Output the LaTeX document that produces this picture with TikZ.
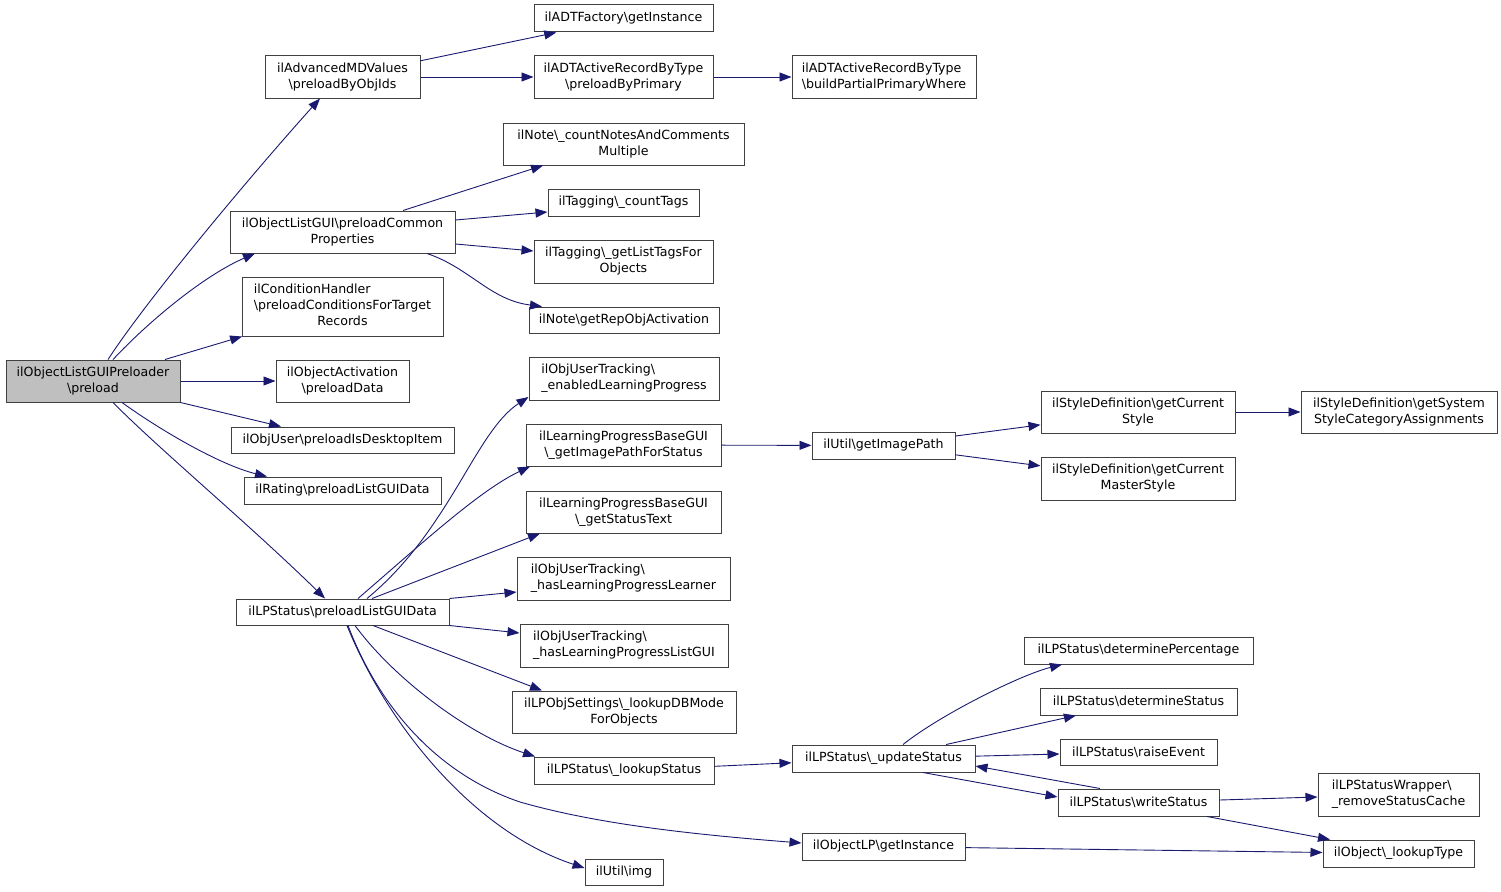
\documentclass[tikz,border=0pt]{standalone}
\usepackage{fontspec}
\setmainfont{DejaVu Sans}
\usetikzlibrary{arrows.meta}
\definecolor{edgec}{HTML}{191970}
\definecolor{boxc}{HTML}{404040}
\definecolor{rootc}{HTML}{BFBFBF}
\newcommand{\bs}{\textbackslash}
\tikzset{
 fn/.style={draw=boxc, line width=1pt, fill=white, inner sep=0pt, align=center, font=\fontsize{12.6}{16}\selectfont},
 fnl/.style={fn, align=left},
 rootfn/.style={fn, fill=rootc},
 call/.style={draw=edgec, line width=0.9pt, -{Triangle[length=12pt,width=9pt]}},
}
\begin{document}
\begin{tikzpicture}[x=1pt,y=-1pt]
\useasboundingbox (0,0) rectangle (1501,891);
% nodes
\node[rootfn, minimum width=174pt, minimum height=42pt] (root) at (93,381) {ilObjectListGUIPreloader\\\bs preload};
\node[fn, minimum width=155pt, minimum height=42pt] (amd) at (342.5,77) {ilAdvancedMDValues\\\bs preloadByObjIds};
\node[fn, minimum width=225pt, minimum height=42pt] (olg) at (342.5,232) {ilObjectListGUI\bs preloadCommon\\Properties};
\node[fn, minimum width=201pt, minimum height=59pt] (cond) at (342.5,306.5) {\begin{tabular}{@{}l@{}}ilConditionHandler\\\bs preloadConditionsForTarget\\\multicolumn{1}{@{}c@{}}{Records}\end{tabular}};
\node[fn, minimum width=133pt, minimum height=42pt] (oact) at (342.5,381) {ilObjectActivation\\\bs preloadData};
\node[fn, minimum width=223pt, minimum height=26pt] (ouser) at (342.5,440) {ilObjUser\bs preloadIsDesktopItem};
\node[fn, minimum width=197pt, minimum height=27pt] (rating) at (342.5,490.5) {ilRating\bs preloadListGUIData};
\node[fn, minimum width=213pt, minimum height=26pt] (lpsp) at (342.5,612) {ilLPStatus\bs preloadListGUIData};
\node[fn, minimum width=179pt, minimum height=27pt] (adtf) at (623.5,18.5) {ilADTFactory\bs getInstance};
\node[fn, minimum width=179pt, minimum height=42pt] (adtp) at (623.5,77) {ilADTActiveRecordByType\\\bs preloadByPrimary};
\node[fnl, minimum width=184pt, minimum height=42pt] (adtb) at (884,77) {ilADTActiveRecordByType\\\bs buildPartialPrimaryWhere};
\node[fn, minimum width=241pt, minimum height=42pt] (notecnt) at (623.5,144) {ilNote\bs\_countNotesAndComments\\Multiple};
\node[fn, minimum width=151pt, minimum height=27pt] (tagcnt) at (623.5,202.5) {ilTagging\bs\_countTags};
\node[fn, minimum width=179pt, minimum height=43pt] (taglist) at (623.5,261.5) {ilTagging\bs\_getListTagsFor\\Objects};
\node[fn, minimum width=190pt, minimum height=26pt] (noterep) at (624,320) {ilNote\bs getRepObjActivation};
\node[fnl, minimum width=190pt, minimum height=43pt] (outen) at (624,378.5) {ilObjUserTracking\bs\\\_enabledLearningProgress};
\node[fn, minimum width=195pt, minimum height=42pt] (lpimg) at (623.5,445) {ilLearningProgressBaseGUI\\\bs\_getImagePathForStatus};
\node[fn, minimum width=195pt, minimum height=42pt] (lptext) at (623.5,512) {ilLearningProgressBaseGUI\\\bs\_getStatusText};
\node[fnl, minimum width=213pt, minimum height=43pt] (outlearner) at (623.5,578.5) {ilObjUserTracking\bs\\\_hasLearningProgressLearner};
\node[fnl, minimum width=208pt, minimum height=43pt] (outlist) at (624,645.5) {ilObjUserTracking\bs\\\_hasLearningProgressListGUI};
\node[fn, minimum width=224pt, minimum height=42pt] (lpdb) at (624,712) {ilLPObjSettings\bs\_lookupDBMode\\ForObjects};
\node[fn, minimum width=180pt, minimum height=27pt] (lookup) at (624,770.5) {ilLPStatus\bs\_lookupStatus};
\node[fn, minimum width=78pt, minimum height=26pt] (uimg) at (624,872) {ilUtil\bs img};
\node[fn, minimum width=143pt, minimum height=27pt] (getimg) at (883.5,445.5) {ilUtil\bs getImagePath};
\node[fn, minimum width=183pt, minimum height=27pt] (update) at (883.5,758.5) {ilLPStatus\bs\_updateStatus};
\node[fn, minimum width=163pt, minimum height=27pt] (olp) at (883.5,846.5) {ilObjectLP\bs getInstance};
\node[fn, minimum width=194pt, minimum height=42pt] (curstyle) at (1138,412) {ilStyleDefinition\bs getCurrent\\Style};
\node[fn, minimum width=194pt, minimum height=43pt] (master) at (1138,478.5) {ilStyleDefinition\bs getCurrent\\MasterStyle};
\node[fn, minimum width=196pt, minimum height=42pt] (sysstyle) at (1399,412) {ilStyleDefinition\bs getSystem\\StyleCategoryAssignments};
\node[fn, minimum width=229pt, minimum height=27pt] (detperc) at (1138.5,650.5) {ilLPStatus\bs determinePercentage};
\node[fn, minimum width=197pt, minimum height=27pt] (detstat) at (1138.5,701.5) {ilLPStatus\bs determineStatus};
\node[fn, minimum width=157pt, minimum height=26pt] (raise) at (1138.5,752) {ilLPStatus\bs raiseEvent};
\node[fn, minimum width=161pt, minimum height=27pt] (write) at (1138.5,802.5) {ilLPStatus\bs writeStatus};
\node[fnl, minimum width=161pt, minimum height=43pt] (wrapper) at (1398.5,794.5) {ilLPStatusWrapper\bs\\\_removeStatusCache};
\node[fn, minimum width=151pt, minimum height=27pt] (lookuptype) at (1398.5,853.5) {ilObject\bs\_lookupType};
% edges from root
\draw[call] ([xshift=15pt]root.north) .. controls (150,295) and (260,165) .. ([xshift=-22.5pt]amd.south);
\draw[call] ([xshift=20pt]root.north) .. controls (150,320) and (205,275) .. ([xshift=-87.5pt]olg.south);
\draw[call] (root) -- (cond);
\draw[call] (root) -- (oact);
\draw[call] (root.south east) -- ([xshift=-61.5pt]ouser.north);
\draw[call] ([xshift=29pt]root.south) .. controls (160,430) and (220,465) .. ([xshift=-75.5pt]rating.north);
\draw[call] ([xshift=20pt]root.south) .. controls (160,450) and (250,525) .. ([xshift=-17.5pt]lpsp.north);
% amd
\draw[call] (amd) -- (adtf);
\draw[call] (amd) -- (adtp);
\draw[call] (adtp) -- (adtb);
% olg
\draw[call] ([xshift=60.5pt]olg.north) -- ([xshift=-80.5pt]notecnt.south);
\draw[call] ([yshift=12pt]olg.east) -- ([yshift=-9.5pt]tagcnt.west);
\draw[call] ([yshift=-12pt]olg.east) -- ([yshift=10.5pt]taglist.west);
\draw[call] ([xshift=84.5pt]olg.south) .. controls (470,268) and (490,300) .. ([xshift=-82pt]noterep.north);
% lpsp
\draw[call] ([xshift=24.5pt]lpsp.north) .. controls (450,530) and (475,432) .. ([yshift=-18.5pt]outen.west);
\draw[call] ([xshift=15.5pt]lpsp.north) .. controls (420,545) and (480,490) .. ([xshift=-93.5pt]lpimg.south);
\draw[call] ([xshift=29.5pt]lpsp.north) -- ([xshift=-83.5pt]lptext.south);
\draw[call] (lpsp.north east) -- ([yshift=-13.5pt]outlearner.west);
\draw[call] (lpsp.south east) -- ([yshift=12.5pt]outlist.west);
\draw[call] ([xshift=30.5pt]lpsp.south) -- ([xshift=-82pt]lpdb.north);
\draw[call] ([xshift=12.5pt]lpsp.south) .. controls (395,680) and (470,735) .. ([xshift=-89pt]lookup.north);
\draw[call] ([xshift=5.5pt]lpsp.south) .. controls (380,710) and (440,775) .. (520,802) .. controls (600,825) and (700,835) .. ([yshift=3.5pt]olp.west);
\draw[call] ([xshift=4.5pt]lpsp.south) .. controls (385,720) and (470,830) .. ([yshift=4pt]uimg.west);
% image path
\draw[call] (lpimg) -- (getimg);
\draw[call] (getimg) -- (curstyle);
\draw[call] (getimg) -- (master);
\draw[call] (curstyle) -- (sysstyle);
% status
\draw[call] (lookup) -- (update);
\draw[call] ([xshift=19.5pt]update.north) .. controls (940,715) and (1020,675) .. ([xshift=-76.5pt]detperc.south);
\draw[call] (update) -- (detstat);
\draw[call] (update) -- (raise);
\draw[call] ([xshift=39.5pt]update.south) -- ([yshift=5.5pt]write.west);
\draw[call] ([xshift=-38.5pt]write.north) -- ([yshift=-7.5pt]update.east);
\draw[call] (write) -- (wrapper);
\draw[call] ([xshift=68.5pt]write.south) -- ([xshift=-68.5pt]lookuptype.north);
\draw[call] (olp) -- (lookuptype);
\end{tikzpicture}
\end{document}
